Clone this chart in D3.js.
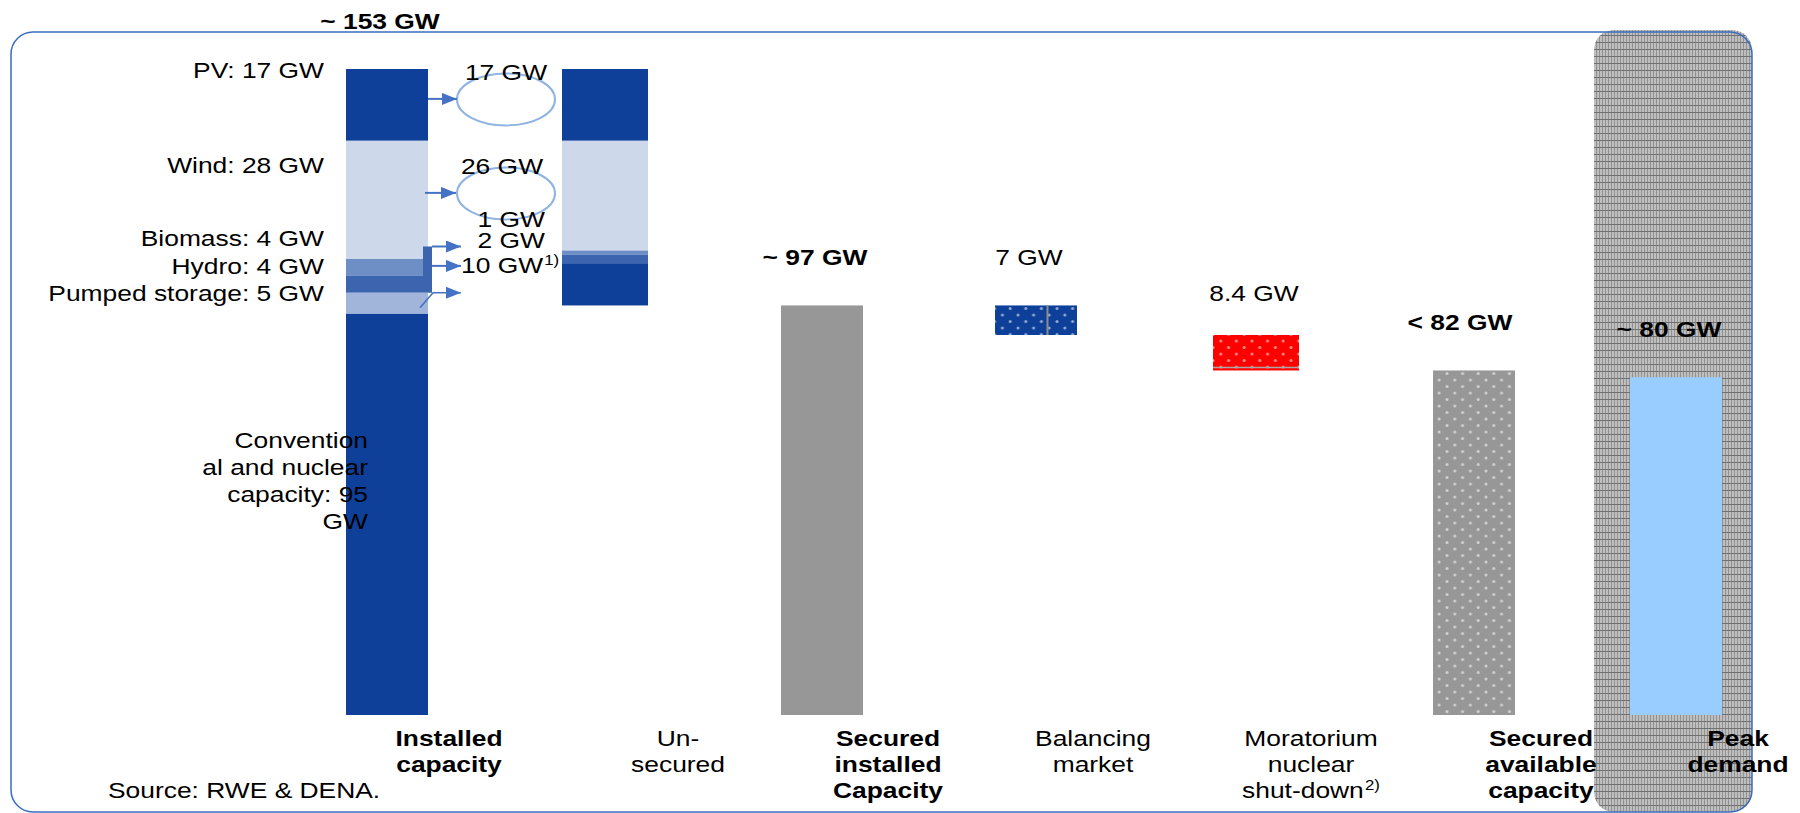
<!DOCTYPE html>
<html>
<head>
<meta charset="utf-8">
<script src="https://cdn.jsdelivr.net/npm/d3@7"></script>
<style>
  html, body { margin: 0; padding: 0; background: #ffffff; }
  svg { display: block; font-family: "Liberation Sans", Arial, Helvetica, sans-serif; }
</style>
</head>
<body>
<svg id="chart" width="1800" height="813"></svg>
<script>
// ---- data -------------------------------------------------------------
const categories = ["Installed capacity", "Un-secured", "Secured installed Capacity",
  "Balancing market", "Moratorium nuclear shut-down", "Secured available capacity", "Peak demand"];
const categoryLines = [["Installed", "capacity"], ["Un-", "secured"], ["Secured", "installed", "Capacity"],
  ["Balancing", "market"], ["Moratorium", "nuclear", "shut-down"], ["Secured", "available", "capacity"],
  ["Peak", "demand"]];
const categoryBold = [true, false, true, false, false, true, true];
const categoryNotes = ["", "", "", "", "2)", "", ""];

const installedSources = ["PV", "Wind", "Biomass", "Hydro", "Pumped storage", "Conventional"];
const installedValues = [17, 28, 4, 4, 5, 95];
const conventionalLabelLines = ["Convention", "al and nuclear", "capacity: 95", "GW"];

const unsecuredParts = ["PV", "Wind", "Biomass", "Hydro", "Other"];
const unsecuredValues = [17, 26, 1, 2, 10];
const unsecuredNotes = ["", "", "", "", "1)"];

const securedInstalled = 97;
const balancingMarket = 7;
const moratoriumShutdown = 8.4;
const securedAvailable = 81.6;
const peakDemand = 80;

// ---- styles / layout ------------------------------------------------------
const colors = {
  PV: "#0e4099", Wind: "#cdd9eb", Biomass: "#6e8ec6", Hydro: "#3d64ae",
  "Pumped storage": "#a1b5da", Conventional: "#0e4099", Other: "#0e4099"
};
const grey = "#979797", red = "#ff0000", peakBlue = "#99ccff", arrowBlue = "#4472c4";
const SX = 1.2;           // horizontal stretch of all lettering
const BW = 82, PEAK_BW = 92;
const columnCentres = [387, 605, 822, 1036, 1256, 1474, 1676];
const captionCentres = [449, 678, 888, 1093, 1311, 1541, 1738];

const svg = d3.select("#chart");
const defs = svg.append("defs");

// white dot overlay used on the dotted bars
const dots = defs.append("pattern").attr("id", "dots").attr("patternUnits", "userSpaceOnUse")
  .attr("width", 15.6).attr("height", 13);
[[4, 3], [11.8, 9.5]].forEach(([cx, cy]) =>
  dots.append("circle").attr("cx", cx).attr("cy", cy).attr("r", 1.5)
    .attr("fill", "#ffffff").attr("fill-opacity", 0.55));

// fine grey mesh for the highlighted peak-demand column
const mesh = defs.append("pattern").attr("id", "mesh").attr("patternUnits", "userSpaceOnUse")
  .attr("width", 3).attr("height", 7);
mesh.append("rect").attr("width", 3).attr("height", 7).attr("fill", "#bebebe");
mesh.append("rect").attr("width", 1).attr("height", 7).attr("fill", "#929292");
mesh.append("rect").attr("width", 3).attr("height", 1).attr("fill", "#707070");

defs.append("marker").attr("id", "head").attr("markerUnits", "userSpaceOnUse")
  .attr("viewBox", "0 0 15 12").attr("refX", 15).attr("refY", 6)
  .attr("markerWidth", 15).attr("markerHeight", 12).attr("orient", "auto")
  .append("path").attr("d", "M0,0 L15,6 L0,12 Z").attr("fill", arrowBlue);

// ---- scales -----------------------------------------------------------
const installedTotal = d3.sum(installedValues);
const x = d3.scaleOrdinal().domain(categories).range(columnCentres);
const xCaption = d3.scaleOrdinal().domain(categories).range(captionCentres);
const y = d3.scaleLinear().domain([0, installedTotal]).range([715, 69]);

// ---- frame and highlight column ---------------------------------------
svg.append("rect").attr("x", 1594).attr("y", 30).attr("width", 158).attr("height", 782)
  .attr("rx", 20).attr("fill", "url(#mesh)");
svg.append("rect").attr("x", 11).attr("y", 32).attr("width", 1741).attr("height", 780)
  .attr("rx", 22).attr("fill", "none").attr("stroke", "#3a6cc0").attr("stroke-width", 1.5);

// ---- stacked bars -----------------------------------------------------
function stackDown(top, values, keys) {
  let cur = top;
  return values.map((v, i) => {
    const s = { key: keys[i], hi: cur, lo: cur - v, value: v };
    cur -= v;
    return s;
  });
}
const installedStack = stackDown(installedTotal, installedValues, installedSources);
const unsecuredStack = stackDown(installedTotal, unsecuredValues, unsecuredParts);

const bars = svg.append("g");
bars.selectAll(".installed").data(installedStack).join("rect").attr("class", "installed")
  .attr("x", x(categories[0]) - BW / 2).attr("width", BW)
  .attr("y", d => y(d.hi)).attr("height", d => y(d.lo) - y(d.hi))
  .attr("fill", d => colors[d.key]);

const x2 = x(categories[1]) - (BW + 4) / 2;
bars.selectAll(".unsecured").data(unsecuredStack).join("rect").attr("class", "unsecured")
  .attr("x", x2).attr("width", BW + 4)
  .attr("y", d => y(d.hi)).attr("height", d => y(d.lo) - y(d.hi))
  .attr("fill", d => colors[d.key]);

// ---- waterfall steps ----------------------------------------------------
const steps = [
  { cat: categories[2], lo: 0, hi: securedInstalled, fill: grey, dotted: false, w: BW },
  { cat: categories[3], lo: securedInstalled - balancingMarket, hi: securedInstalled, fill: colors.PV, dotted: true, w: BW },
  { cat: categories[4], lo: securedInstalled - balancingMarket - moratoriumShutdown,
    hi: securedInstalled - balancingMarket, fill: red, dotted: true, w: BW + 4 },
  { cat: categories[5], lo: 0, hi: securedAvailable, fill: grey, dotted: true, w: BW },
  { cat: categories[6], lo: 0, hi: peakDemand, fill: peakBlue, dotted: false, w: PEAK_BW }
];
const stepG = bars.selectAll(".step").data(steps).join("g").attr("class", "step");
stepG.append("rect")
  .attr("x", d => x(d.cat) - d.w / 2).attr("width", d => d.w)
  .attr("y", d => y(d.hi)).attr("height", d => y(d.lo) - y(d.hi)).attr("fill", d => d.fill);
stepG.filter(d => d.dotted).append("rect")
  .attr("x", d => x(d.cat) - d.w / 2).attr("width", d => d.w)
  .attr("y", d => y(d.hi)).attr("height", d => y(d.lo) - y(d.hi)).attr("fill", "url(#dots)");

// seams inside the balancing and moratorium blocks
const bal = steps[1], mor = steps[2];
bars.append("line")
  .attr("x1", x(bal.cat) - bal.w / 2 + bal.w * 0.64).attr("x2", x(bal.cat) - bal.w / 2 + bal.w * 0.64)
  .attr("y1", y(bal.hi)).attr("y2", y(bal.lo)).attr("stroke", "#8c8c8c").attr("stroke-width", 2);
bars.append("line")
  .attr("x1", x(mor.cat) - mor.w / 2).attr("x2", x(mor.cat) + mor.w / 2)
  .attr("y1", y(mor.lo) - 3).attr("y2", y(mor.lo) - 3).attr("stroke", "#a8a8a8").attr("stroke-width", 1.5);

// ---- arrows from installed to un-secured ----------------------------------
const bar1Right = x(categories[0]) + BW / 2;
const seg = k => installedStack.find(s => s.key === k);
const ellipseCx = x2 - 56;
const arrowYs = [
  (y(seg("PV").hi) + y(seg("PV").lo)) / 2 - 6,
  (y(seg("Wind").hi) + y(seg("Wind").lo)) / 2 - 7,
  y(seg("Wind").lo) - 12.5,
  y(seg("Biomass").lo) - 10,
  y(seg("Hydro").lo)
];
const ann = svg.append("g");

// bracket joining the hydro layer to the upper arrows
ann.append("path")
  .attr("d", `M${bar1Right - 5},${arrowYs[2]} H${bar1Right + 4} V${y(seg("Hydro").lo)} H${bar1Right} V${y(seg("Hydro").hi)} H${bar1Right - 5} Z`)
  .attr("fill", colors.Hydro);

[0, 1].forEach(i => {
  ann.append("ellipse").attr("cx", ellipseCx).attr("cy", arrowYs[i] + 0.5).attr("rx", 49).attr("ry", 26)
    .attr("fill", "none").attr("stroke", "#8fb4e1").attr("stroke-width", 2);
});
const arrowStarts = [bar1Right, bar1Right - 3, bar1Right + 4, bar1Right + 4, bar1Right + 5];
const arrowEnds = [ellipseCx - 49, ellipseCx - 50, ellipseCx - 45, ellipseCx - 45, ellipseCx - 45];
arrowYs.forEach((ay, i) => {
  const pts = i === 4
    ? [[bar1Right - 8, ay + 15], [arrowStarts[i], ay], [arrowEnds[i], ay]]
    : [[arrowStarts[i], ay], [arrowEnds[i], ay]];
  ann.append("path").attr("d", d3.line()(pts)).attr("fill", "none")
    .attr("stroke", arrowBlue).attr("stroke-width", i === 4 ? 1.6 : 2)
    .attr("marker-end", "url(#head)");
});

// ---- lettering --------------------------------------------------------
const txt = svg.append("g");
function label(px, py, str, opts = {}) {
  const g = txt.append("g").attr("transform", `translate(${px},${py}) scale(${SX},1)`);
  const t = g.append("text").attr("text-anchor", opts.anchor || "start")
    .attr("font-weight", opts.bold ? "bold" : "normal")
    .attr("font-size", opts.size || 22).attr("fill", "#000").text(str);
  if (opts.note) {
    t.append("tspan").attr("font-size", 14).attr("dx", 1).attr("dy", -8).text(opts.note);
  }
  return t;
}

// component names next to the installed bar
const leftX = x(categories[0]) - BW / 2 - 22;
const pumpedY = y(seg("Pumped storage").hi) + 8;
const leftYs = [y(seg("PV").hi) + 9, y(seg("Wind").hi) + 32, pumpedY - 55, pumpedY - 27, pumpedY];
installedSources.slice(0, 5).forEach((s, i) =>
  label(leftX, leftYs[i], `${s}: ${installedValues[i]} GW`, { anchor: "end" }));
conventionalLabelLines.forEach((line, i) =>
  label(x(categories[0]) - BW / 2 + 22, y(seg("Conventional").hi) + 134 + i * 27, line, { anchor: "end" }));

// un-secured amounts
label(ellipseCx, arrowYs[0] - 19, `${unsecuredValues[0]} GW`, { anchor: "middle" });
label(ellipseCx - 4, arrowYs[1] - 18.5, `${unsecuredValues[1]} GW`, { anchor: "middle" });
label(ellipseCx + 39, arrowYs[2] - 19.5, `${unsecuredValues[2]} GW`, { anchor: "end" });
label(ellipseCx + 39, arrowYs[2] + 1.5, `${unsecuredValues[3]} GW`, { anchor: "end" });
label(ellipseCx - 45, arrowYs[3] + 7, `${unsecuredValues[4]} GW`, { anchor: "start", note: unsecuredNotes[4] });

// values above the columns
const valueLabels = [
  { cat: categories[0], top: installedTotal, text: `~ ${installedTotal} GW`, bold: true, dx: -7 },
  { cat: categories[2], top: securedInstalled, text: `~ ${securedInstalled} GW`, bold: true, dx: -7 },
  { cat: categories[3], top: securedInstalled, text: `${balancingMarket} GW`, bold: false, dx: -7 },
  { cat: categories[4], top: securedInstalled - balancingMarket, text: `${moratoriumShutdown} GW`, bold: false, dx: -2, dy: 6 },
  { cat: categories[5], top: securedAvailable, text: `< ${Math.ceil(securedAvailable)} GW`, bold: true, dx: -14 },
  { cat: categories[6], top: peakDemand, text: `~ ${peakDemand} GW`, bold: true, dx: -7 }
];
valueLabels.forEach(v =>
  label(x(v.cat) + v.dx, y(v.top) - 40 + (v.dy || 0), v.text, { anchor: "middle", bold: v.bold }));

// category names under the columns
categories.forEach((c, i) => {
  categoryLines[i].forEach((line, j) => {
    const last = j === categoryLines[i].length - 1;
    label(xCaption(c), 746 + j * 26, line,
      { anchor: "middle", bold: categoryBold[i], note: last && categoryNotes[i] ? categoryNotes[i] : null });
  });
});

label(108, 798, "Source: RWE & DENA.");
</script>
</body>
</html>
